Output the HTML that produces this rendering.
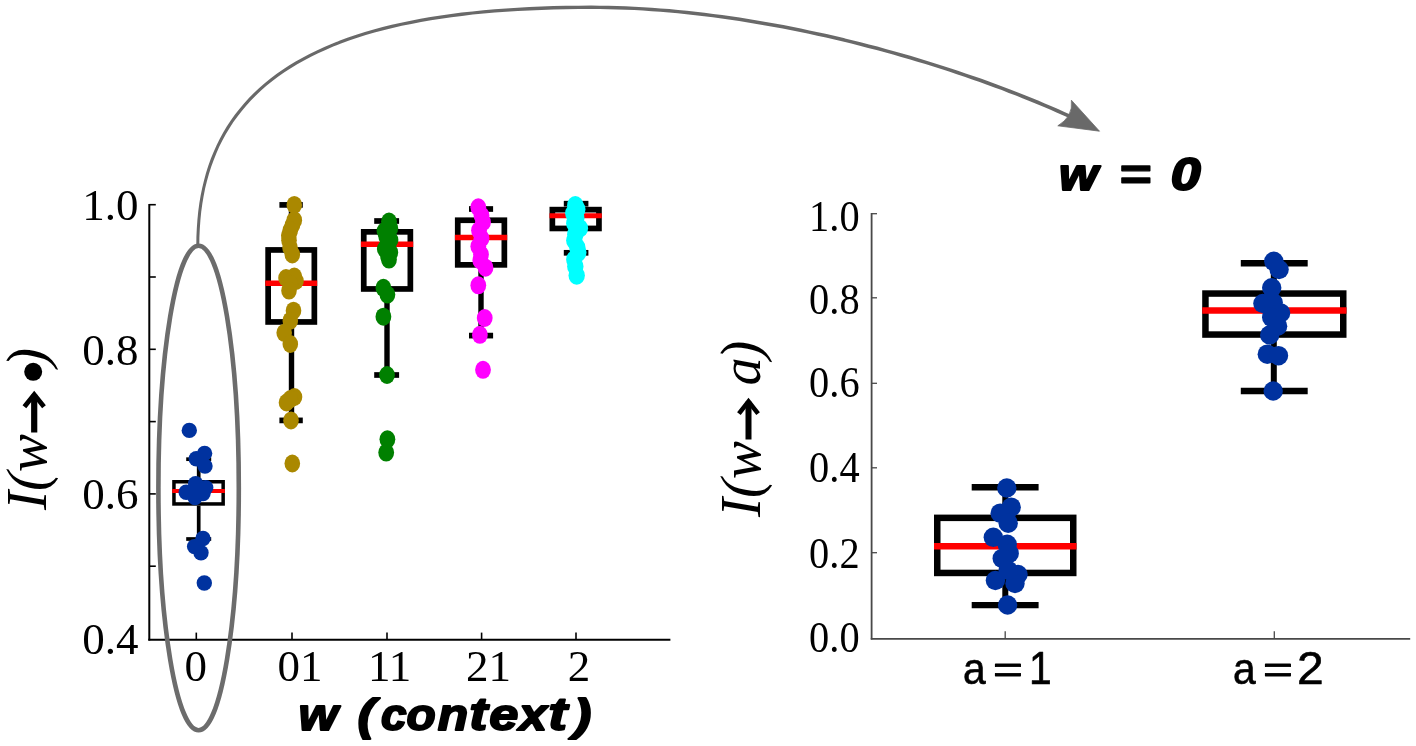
<!DOCTYPE html>
<html><head><meta charset="utf-8"><title>chart</title>
<style>
html,body{margin:0;padding:0;background:#fff;overflow:hidden;width:1416px;height:746px;}
svg{display:block;}
text{font-family:"Liberation Serif",serif;fill:#000;}
.sans{font-family:"Liberation Sans",sans-serif;}
</style></head><body>
<svg width="1416" height="746" viewBox="0 0 1416 746">
<defs><filter id="soft" x="0" y="0" width="1416" height="746" filterUnits="userSpaceOnUse"><feGaussianBlur stdDeviation="0.55"/></filter></defs>
<rect width="1416" height="746" fill="#fff"/>
<g filter="url(#soft)">

<line x1="149.3" y1="204" x2="149.3" y2="640.5" stroke="#000" stroke-width="2"/>
<line x1="148.3" y1="639.8" x2="670.4" y2="639.8" stroke="#000" stroke-width="2"/>
<line x1="149.3" y1="204.7" x2="155.8" y2="204.7" stroke="#000" stroke-width="1.6"/>
<line x1="149.3" y1="277.0" x2="155.8" y2="277.0" stroke="#000" stroke-width="1.6"/>
<line x1="149.3" y1="349.3" x2="155.8" y2="349.3" stroke="#000" stroke-width="1.6"/>
<line x1="149.3" y1="421.6" x2="155.8" y2="421.6" stroke="#000" stroke-width="1.6"/>
<line x1="149.3" y1="493.9" x2="155.8" y2="493.9" stroke="#000" stroke-width="1.6"/>
<line x1="149.3" y1="566.2" x2="155.8" y2="566.2" stroke="#000" stroke-width="1.6"/>
<line x1="196.3" y1="639.5" x2="196.3" y2="632.6" stroke="#000" stroke-width="1.6"/>
<line x1="292" y1="639.5" x2="292" y2="632.6" stroke="#000" stroke-width="1.6"/>
<line x1="387" y1="639.5" x2="387" y2="632.6" stroke="#000" stroke-width="1.6"/>
<line x1="481.6" y1="639.5" x2="481.6" y2="632.6" stroke="#000" stroke-width="1.6"/>
<line x1="576" y1="639.5" x2="576" y2="632.6" stroke="#000" stroke-width="1.6"/>
<text x="138.5" y="220.0" font-size="45" text-anchor="end">1.0</text>
<text x="138.5" y="364.6" font-size="45" text-anchor="end">0.8</text>
<text x="138.5" y="509.2" font-size="45" text-anchor="end">0.6</text>
<text x="138.5" y="653.8" font-size="45" text-anchor="end">0.4</text>
<text x="195.8" y="680.5" font-size="45" text-anchor="middle">0</text>
<text x="300" y="680.5" font-size="45" text-anchor="middle">01</text>
<text x="389.7" y="680.5" font-size="45" text-anchor="middle">11</text>
<text x="488.4" y="680.5" font-size="45" text-anchor="middle">21</text>
<text x="579" y="680.5" font-size="45" text-anchor="middle">2</text>
<line x1="198.7" y1="459.2" x2="198.7" y2="480" stroke="#000" stroke-width="3.7"/>
<line x1="198.7" y1="505.7" x2="198.7" y2="539" stroke="#000" stroke-width="3.7"/>
<line x1="186.2" y1="459.2" x2="211.2" y2="459.2" stroke="#000" stroke-width="3.7"/>
<line x1="186.2" y1="539" x2="211.2" y2="539" stroke="#000" stroke-width="3.7"/>
<rect x="173.95" y="481.75" width="49.20000000000002" height="22.19999999999999" fill="none" stroke="#000" stroke-width="3.5"/>
<line x1="172.2" y1="491" x2="224.9" y2="491" stroke="#f00" stroke-width="3.8"/>
<line x1="291.5" y1="204.9" x2="291.5" y2="247.1" stroke="#000" stroke-width="5.4"/>
<line x1="291.5" y1="324.8" x2="291.5" y2="420.4" stroke="#000" stroke-width="5.4"/>
<line x1="279.4" y1="204.9" x2="302.8" y2="204.9" stroke="#000" stroke-width="5.7"/>
<line x1="279.4" y1="420.4" x2="302.8" y2="420.4" stroke="#000" stroke-width="5.7"/>
<rect x="268.15000000000003" y="249.95" width="46.199999999999974" height="72.00000000000001" fill="none" stroke="#000" stroke-width="5.7"/>
<line x1="265.3" y1="283.3" x2="317.2" y2="283.3" stroke="#f00" stroke-width="5.6"/>
<line x1="387" y1="221" x2="387" y2="229" stroke="#000" stroke-width="5.4"/>
<line x1="387" y1="291.8" x2="387" y2="375" stroke="#000" stroke-width="5.4"/>
<line x1="374.2" y1="221" x2="399.1" y2="221" stroke="#000" stroke-width="5.7"/>
<line x1="374.2" y1="375" x2="399.1" y2="375" stroke="#000" stroke-width="5.7"/>
<rect x="363.75" y="231.85" width="46.60000000000001" height="57.10000000000001" fill="none" stroke="#000" stroke-width="5.7"/>
<line x1="360.9" y1="244.3" x2="413.2" y2="244.3" stroke="#f00" stroke-width="5.6"/>
<line x1="481" y1="209" x2="481" y2="217.4" stroke="#000" stroke-width="5.4"/>
<line x1="481" y1="267.7" x2="481" y2="335.6" stroke="#000" stroke-width="5.4"/>
<line x1="469" y1="209" x2="493.1" y2="209" stroke="#000" stroke-width="5.7"/>
<line x1="469" y1="335.6" x2="493.1" y2="335.6" stroke="#000" stroke-width="5.7"/>
<rect x="457.75" y="220.25" width="46.60000000000001" height="44.59999999999998" fill="none" stroke="#000" stroke-width="5.7"/>
<line x1="454.9" y1="237.5" x2="507.2" y2="237.5" stroke="#f00" stroke-width="5.6"/>
<line x1="575.9" y1="203.7" x2="575.9" y2="206.8" stroke="#000" stroke-width="5.4"/>
<line x1="575.9" y1="231.3" x2="575.9" y2="252.8" stroke="#000" stroke-width="5.4"/>
<line x1="563.8" y1="203.7" x2="588.4" y2="203.7" stroke="#000" stroke-width="5.7"/>
<line x1="563.8" y1="252.8" x2="588.4" y2="252.8" stroke="#000" stroke-width="5.7"/>
<rect x="552.35" y="209.65" width="46.59999999999995" height="18.8" fill="none" stroke="#000" stroke-width="5.7"/>
<line x1="549.5" y1="215.8" x2="601.8" y2="215.8" stroke="#f00" stroke-width="5"/>
<circle cx="189.3" cy="430.4" r="7.7" fill="#00339f"/>
<circle cx="204.6" cy="453.4" r="7.7" fill="#00339f"/>
<circle cx="196.3" cy="458.8" r="7.7" fill="#00339f"/>
<circle cx="205" cy="466.1" r="7.7" fill="#00339f"/>
<circle cx="195.6" cy="483.6" r="7.7" fill="#00339f"/>
<circle cx="186.2" cy="492.3" r="7.7" fill="#00339f"/>
<circle cx="205.7" cy="487.6" r="7.7" fill="#00339f"/>
<circle cx="195" cy="497.6" r="7.7" fill="#00339f"/>
<circle cx="203" cy="493.6" r="7.7" fill="#00339f"/>
<circle cx="199" cy="491" r="7.7" fill="#00339f"/>
<circle cx="203" cy="538.5" r="7.7" fill="#00339f"/>
<circle cx="194.6" cy="546.6" r="7.7" fill="#00339f"/>
<circle cx="201" cy="552.8" r="7.7" fill="#00339f"/>
<circle cx="204.3" cy="583" r="7.7" fill="#00339f"/>
<ellipse cx="286.5" cy="402.5" rx="7.8" ry="9" fill="#aa8800"/>
<ellipse cx="294.5" cy="397" rx="7.8" ry="9" fill="#aa8800"/>
<ellipse cx="286" cy="278" rx="7.8" ry="9" fill="#aa8800"/>
<ellipse cx="296" cy="281" rx="7.8" ry="9" fill="#aa8800"/>
<ellipse cx="292.5" cy="225" rx="7.8" ry="9" fill="#aa8800"/>
<ellipse cx="288.8" cy="235.5" rx="7.8" ry="9" fill="#aa8800"/>
<ellipse cx="290" cy="247.5" rx="7.8" ry="9" fill="#aa8800"/>
<ellipse cx="294.3" cy="204.9" rx="7.8" ry="9" fill="#aa8800"/>
<ellipse cx="294.3" cy="220.2" rx="7.8" ry="9" fill="#aa8800"/>
<ellipse cx="290.3" cy="230.3" rx="7.8" ry="9" fill="#aa8800"/>
<ellipse cx="289" cy="240.3" rx="7.8" ry="9" fill="#aa8800"/>
<ellipse cx="292.3" cy="254.4" rx="7.8" ry="9" fill="#aa8800"/>
<ellipse cx="294.3" cy="276.5" rx="7.8" ry="9" fill="#aa8800"/>
<ellipse cx="290.3" cy="283.7" rx="7.8" ry="9" fill="#aa8800"/>
<ellipse cx="289" cy="290.6" rx="7.8" ry="9" fill="#aa8800"/>
<ellipse cx="293.5" cy="310.7" rx="7.8" ry="9" fill="#aa8800"/>
<ellipse cx="290.3" cy="320.7" rx="7.8" ry="9" fill="#aa8800"/>
<ellipse cx="284.2" cy="332.8" rx="7.8" ry="9" fill="#aa8800"/>
<ellipse cx="290.3" cy="344" rx="7.8" ry="9" fill="#aa8800"/>
<ellipse cx="290.3" cy="399.1" rx="7.8" ry="9" fill="#aa8800"/>
<ellipse cx="291" cy="420.4" rx="7.8" ry="9" fill="#aa8800"/>
<ellipse cx="292.3" cy="463.5" rx="7.8" ry="9" fill="#aa8800"/>
<ellipse cx="389" cy="221.5" rx="7.9" ry="9" fill="#008000"/>
<ellipse cx="384.5" cy="231" rx="7.9" ry="9" fill="#008000"/>
<ellipse cx="390.5" cy="240" rx="7.9" ry="9" fill="#008000"/>
<ellipse cx="384.8" cy="249" rx="7.9" ry="9" fill="#008000"/>
<ellipse cx="388" cy="256" rx="7.9" ry="9" fill="#008000"/>
<ellipse cx="390.3" cy="228.3" rx="7.9" ry="9" fill="#008000"/>
<ellipse cx="386.2" cy="236.3" rx="7.9" ry="9" fill="#008000"/>
<ellipse cx="387.4" cy="244.3" rx="7.9" ry="9" fill="#008000"/>
<ellipse cx="390.3" cy="252.4" rx="7.9" ry="9" fill="#008000"/>
<ellipse cx="389" cy="259.6" rx="7.9" ry="9" fill="#008000"/>
<ellipse cx="383.4" cy="287.8" rx="7.9" ry="9" fill="#008000"/>
<ellipse cx="387.4" cy="294.6" rx="7.9" ry="9" fill="#008000"/>
<ellipse cx="383.4" cy="316.7" rx="7.9" ry="9" fill="#008000"/>
<ellipse cx="387" cy="375" rx="7.9" ry="9" fill="#008000"/>
<ellipse cx="387.4" cy="439.3" rx="7.9" ry="9" fill="#008000"/>
<ellipse cx="386.2" cy="452.6" rx="7.9" ry="9" fill="#008000"/>
<ellipse cx="478.3" cy="207.3" rx="7.9" ry="9" fill="#ff00ff"/>
<ellipse cx="481.5" cy="215.4" rx="7.9" ry="9" fill="#ff00ff"/>
<ellipse cx="483" cy="222.2" rx="7.9" ry="9" fill="#ff00ff"/>
<ellipse cx="479" cy="230.3" rx="7.9" ry="9" fill="#ff00ff"/>
<ellipse cx="481.5" cy="238.3" rx="7.9" ry="9" fill="#ff00ff"/>
<ellipse cx="478.3" cy="246.3" rx="7.9" ry="9" fill="#ff00ff"/>
<ellipse cx="481" cy="254.4" rx="7.9" ry="9" fill="#ff00ff"/>
<ellipse cx="480.3" cy="260.4" rx="7.9" ry="9" fill="#ff00ff"/>
<ellipse cx="485.5" cy="267.7" rx="7.9" ry="9" fill="#ff00ff"/>
<ellipse cx="478.3" cy="285.3" rx="7.9" ry="9" fill="#ff00ff"/>
<ellipse cx="484.7" cy="318" rx="7.9" ry="9" fill="#ff00ff"/>
<ellipse cx="479.9" cy="334.8" rx="7.9" ry="9" fill="#ff00ff"/>
<ellipse cx="483" cy="369.8" rx="7.9" ry="9" fill="#ff00ff"/>
<ellipse cx="575.3" cy="205.2" rx="8.2" ry="9.2" fill="#00ffff"/>
<ellipse cx="577.3" cy="209.2" rx="8.2" ry="9.2" fill="#00ffff"/>
<ellipse cx="573.3" cy="213.2" rx="8.2" ry="9.2" fill="#00ffff"/>
<ellipse cx="576.3" cy="218.2" rx="8.2" ry="9.2" fill="#00ffff"/>
<ellipse cx="574.3" cy="223.3" rx="8.2" ry="9.2" fill="#00ffff"/>
<ellipse cx="579.9" cy="228.3" rx="8.2" ry="9.2" fill="#00ffff"/>
<ellipse cx="575.3" cy="234.3" rx="8.2" ry="9.2" fill="#00ffff"/>
<ellipse cx="574.3" cy="240.4" rx="8.2" ry="9.2" fill="#00ffff"/>
<ellipse cx="577.3" cy="247.4" rx="8.2" ry="9.2" fill="#00ffff"/>
<ellipse cx="578.3" cy="252.4" rx="8.2" ry="9.2" fill="#00ffff"/>
<ellipse cx="574.3" cy="259.5" rx="8.2" ry="9.2" fill="#00ffff"/>
<ellipse cx="575.3" cy="266.5" rx="8.2" ry="9.2" fill="#00ffff"/>
<ellipse cx="576.7" cy="275.6" rx="8.2" ry="9.2" fill="#00ffff"/>
<ellipse cx="198.6" cy="488" rx="40.2" ry="242.2" fill="none" stroke="#6c6c6c" stroke-width="4.6"/>
<polygon points="199.3,246.0 199.4,237.2 199.8,228.7 200.4,220.3 201.2,212.1 202.3,204.1 203.6,196.2 205.1,188.6 206.9,181.2 208.9,173.9 211.2,166.8 213.7,159.9 216.4,153.2 219.3,146.6 222.5,140.2 225.9,134.0 229.6,128.0 233.4,122.1 237.5,116.4 241.8,110.9 246.4,105.5 251.1,100.3 256.1,95.2 261.3,90.3 266.7,85.6 272.4,81.0 278.3,76.6 284.4,72.3 290.7,68.2 297.2,64.2 304.0,60.4 311.0,56.8 318.1,53.2 325.5,49.9 333.2,46.6 341.0,43.6 349.1,40.6 357.3,37.8 365.8,35.1 374.5,32.6 383.4,30.2 392.5,28.0 401.8,25.8 411.3,23.9 421.0,22.0 431.0,20.3 441.1,18.7 451.5,17.2 462.0,15.9 472.7,14.6 483.7,13.5 494.8,12.6 506.2,11.7 517.7,11.0 529.5,10.4 541.4,9.9 553.5,9.5 565.9,9.2 578.4,9.0 591.1,9.0 599.7,9.0 608.2,9.2 616.9,9.4 625.5,9.7 634.2,10.1 642.9,10.6 651.6,11.2 660.3,11.8 669.0,12.5 677.8,13.3 686.5,14.2 695.3,15.2 704.1,16.2 712.8,17.3 721.6,18.5 730.4,19.7 739.1,21.0 747.9,22.4 756.6,23.9 765.3,25.4 774.0,26.9 782.7,28.6 791.4,30.3 800.1,32.0 808.7,33.8 817.3,35.7 825.9,37.6 834.4,39.5 842.9,41.5 851.3,43.6 859.8,45.7 868.1,47.9 876.5,50.1 884.8,52.3 893.0,54.6 901.2,56.9 909.3,59.3 917.4,61.7 925.4,64.1 933.3,66.6 941.2,69.1 949.0,71.6 956.8,74.2 964.5,76.8 972.1,79.4 979.6,82.1 987.0,84.7 994.4,87.4 1001.7,90.1 1008.8,92.9 1015.9,95.6 1023.0,98.4 1029.9,101.2 1036.7,104.0 1043.4,106.8 1050.0,109.6 1056.5,112.4 1062.9,115.2 1069.2,118.1 1070.8,114.7 1064.4,111.9 1058.0,109.0 1051.5,106.2 1044.8,103.4 1038.1,100.6 1031.2,97.8 1024.3,95.0 1017.3,92.2 1010.2,89.4 1002.9,86.7 995.6,84.0 988.3,81.3 980.8,78.6 973.2,76.0 965.6,73.4 957.9,70.8 950.2,68.2 942.3,65.7 934.4,63.2 926.4,60.7 918.4,58.3 910.3,55.8 902.2,53.5 894.0,51.2 885.7,48.9 877.4,46.6 869.0,44.4 860.6,42.3 852.2,40.2 843.7,38.1 835.2,36.1 826.6,34.1 818.0,32.2 809.4,30.4 800.8,28.6 792.1,26.8 783.4,25.1 774.7,23.5 765.9,21.9 757.2,20.4 748.4,19.0 739.6,17.6 730.9,16.3 722.1,15.1 713.3,13.9 704.5,12.8 695.7,11.8 686.9,10.8 678.1,9.9 669.3,9.1 660.5,8.4 651.8,7.8 643.1,7.2 634.3,6.7 625.6,6.3 617.0,6.0 608.3,5.8 599.7,5.7 591.1,5.6 578.4,5.7 565.8,5.8 553.4,6.1 541.3,6.5 529.3,7.0 517.5,7.7 506.0,8.4 494.6,9.3 483.4,10.3 472.4,11.4 461.6,12.6 451.0,14.0 440.6,15.5 430.4,17.1 420.5,18.8 410.7,20.7 401.1,22.7 391.7,24.8 382.6,27.1 373.6,29.5 364.9,32.1 356.3,34.8 348.0,37.6 339.9,40.6 332.0,43.7 324.3,47.0 316.8,50.4 309.5,53.9 302.5,57.7 295.6,61.5 289.0,65.6 282.6,69.7 276.4,74.1 270.5,78.6 264.7,83.2 259.2,88.0 253.9,93.0 248.9,98.1 244.0,103.4 239.4,108.9 235.0,114.5 230.9,120.3 226.9,126.3 223.2,132.5 219.8,138.8 216.6,145.3 213.6,152.0 210.8,158.8 208.3,165.8 206.0,173.0 204.0,180.4 202.2,187.9 200.6,195.7 199.3,203.6 198.2,211.7 197.4,220.0 196.8,228.5 196.4,237.1 196.3,246.0" fill="#696969"/>
<path d="M1099.5,131.2 L1071.4,100.2 Q1072.5,108.5 1068.7,115.5 Q1065,121.5 1057.8,125.8 Z" fill="#696969" stroke="#696969" stroke-width="0.8" stroke-linejoin="round"/>
<g transform="translate(45.7,510) rotate(-90)">
<text x="0" y="0" font-size="57" font-style="italic">I(w</text>
</g>
<line x1="34.2" y1="432.5" x2="34.2" y2="394.7" stroke="#000" stroke-width="6.2"/><polyline points="24.400000000000002,406.7 34.2,394.5 44.0,406.7" fill="none" stroke="#000" stroke-width="4.8" stroke-linejoin="miter"/>
<circle cx="33.2" cy="371.8" r="9" fill="#000"/>
<g transform="translate(45.7,367) rotate(-90)"><text x="0" y="0" font-size="57" font-style="italic">)</text></g>
<text class="sans" font-weight="bold" font-style="italic" font-size="100" stroke="#000" stroke-width="4.24" stroke-linejoin="round" transform="matrix(0.5045,0,0,0.4394,298.48,730.10)">w</text>
<text class="sans" font-weight="bold" font-style="italic" font-size="100" stroke="#000" stroke-width="4.10" stroke-linejoin="round" transform="matrix(0.5282,0,0,0.4469,357.50,729.70)">(</text>
<text class="sans" font-weight="bold" font-style="italic" font-size="100" stroke="#000" stroke-width="4.40" stroke-linejoin="round" transform="matrix(0.4608,0,0,0.4489,381.07,730.15)">c</text>
<text class="sans" font-weight="bold" font-style="italic" font-size="100" stroke="#000" stroke-width="4.31" stroke-linejoin="round" transform="matrix(0.4781,0,0,0.4489,406.52,729.95)">o</text>
<text class="sans" font-weight="bold" font-style="italic" font-size="100" stroke="#000" stroke-width="4.22" stroke-linejoin="round" transform="matrix(0.4982,0,0,0.4498,437.75,730.00)">n</text>
<text class="sans" font-weight="bold" font-style="italic" font-size="100" stroke="#000" stroke-width="3.94" stroke-linejoin="round" transform="matrix(0.5477,0,0,0.4682,469.30,729.93)">t</text>
<text class="sans" font-weight="bold" font-style="italic" font-size="100" stroke="#000" stroke-width="4.12" stroke-linejoin="round" transform="matrix(0.5231,0,0,0.4489,489.28,729.95)">e</text>
<text class="sans" font-weight="bold" font-style="italic" font-size="100" stroke="#000" stroke-width="4.25" stroke-linejoin="round" transform="matrix(0.5039,0,0,0.4375,519.02,730.00)">x</text>
<text class="sans" font-weight="bold" font-style="italic" font-size="100" stroke="#000" stroke-width="3.86" stroke-linejoin="round" transform="matrix(0.5692,0,0,0.4682,548.31,729.93)">t</text>
<text class="sans" font-weight="bold" font-style="italic" font-size="100" stroke="#000" stroke-width="4.03" stroke-linejoin="round" transform="matrix(0.5448,0,0,0.4469,573.14,729.70)">)</text>
<line x1="871.6" y1="213" x2="871.6" y2="639.5" stroke="#484848" stroke-width="1.8"/>
<line x1="870.8" y1="638.8" x2="1410.2" y2="638.8" stroke="#484848" stroke-width="1.8"/>
<line x1="871.6" y1="213.7" x2="877" y2="213.7" stroke="#484848" stroke-width="1.3"/>
<line x1="871.6" y1="297.8" x2="877" y2="297.8" stroke="#484848" stroke-width="1.3"/>
<line x1="871.6" y1="383.3" x2="877" y2="383.3" stroke="#484848" stroke-width="1.3"/>
<line x1="871.6" y1="467.8" x2="877" y2="467.8" stroke="#484848" stroke-width="1.3"/>
<line x1="871.6" y1="552.7" x2="877" y2="552.7" stroke="#484848" stroke-width="1.3"/>
<line x1="1005.2" y1="638.8" x2="1005.2" y2="631.3" stroke="#484848" stroke-width="1.3"/>
<line x1="1274.3" y1="638.8" x2="1274.3" y2="631.3" stroke="#484848" stroke-width="1.3"/>
<text transform="translate(859.6,230.5) scale(1,1.10)" font-size="40.4" text-anchor="end">1.0</text>
<text transform="translate(859.6,314.1) scale(1,1.10)" font-size="40.4" text-anchor="end">0.8</text>
<text transform="translate(859.6,396.9) scale(1,1.10)" font-size="40.4" text-anchor="end">0.6</text>
<text transform="translate(859.6,481.7) scale(1,1.10)" font-size="40.4" text-anchor="end">0.4</text>
<text transform="translate(859.6,567.9) scale(1,1.10)" font-size="40.4" text-anchor="end">0.2</text>
<text transform="translate(859.6,651.9) scale(1,1.10)" font-size="40.4" text-anchor="end">0.0</text>
<line x1="1005.3" y1="487.2" x2="1005.3" y2="514.6" stroke="#000" stroke-width="6.0"/>
<line x1="1005.3" y1="576.2" x2="1005.3" y2="605.1" stroke="#000" stroke-width="6.0"/>
<line x1="971.7" y1="487.2" x2="1038.6" y2="487.2" stroke="#000" stroke-width="6.4"/>
<line x1="971.7" y1="605.1" x2="1038.6" y2="605.1" stroke="#000" stroke-width="6.4"/>
<rect x="937.25" y="517.85" width="136.0" height="55.10000000000002" fill="none" stroke="#000" stroke-width="6.5"/>
<line x1="934" y1="546.2" x2="1076.5" y2="546.2" stroke="#f00" stroke-width="6.5"/>
<line x1="1273.8" y1="263.3" x2="1273.8" y2="290.3" stroke="#000" stroke-width="6.0"/>
<line x1="1273.8" y1="337.8" x2="1273.8" y2="391" stroke="#000" stroke-width="6.0"/>
<line x1="1240.8" y1="263.3" x2="1307.7" y2="263.3" stroke="#000" stroke-width="6.4"/>
<line x1="1240.8" y1="391" x2="1307.7" y2="391" stroke="#000" stroke-width="6.4"/>
<rect x="1205.45" y="293.55" width="137.79999999999995" height="41.0" fill="none" stroke="#000" stroke-width="6.5"/>
<line x1="1202.2" y1="310.5" x2="1346.5" y2="310.5" stroke="#f00" stroke-width="6.5"/>
<circle cx="1006.8" cy="488" r="9.7" fill="#00339f"/>
<circle cx="1011.2" cy="507.2" r="9.7" fill="#00339f"/>
<circle cx="1000.2" cy="513.2" r="9.7" fill="#00339f"/>
<circle cx="1008.2" cy="523.2" r="9.7" fill="#00339f"/>
<circle cx="993.3" cy="537.3" r="9.7" fill="#00339f"/>
<circle cx="1007.2" cy="544.3" r="9.7" fill="#00339f"/>
<circle cx="1009.2" cy="553.4" r="9.7" fill="#00339f"/>
<circle cx="1002.2" cy="558.4" r="9.7" fill="#00339f"/>
<circle cx="1018" cy="574.5" r="9.7" fill="#00339f"/>
<circle cx="995.4" cy="580.5" r="9.7" fill="#00339f"/>
<circle cx="1015" cy="583.5" r="9.7" fill="#00339f"/>
<circle cx="1008.2" cy="570.4" r="9.7" fill="#00339f"/>
<circle cx="1007.6" cy="605" r="9.7" fill="#00339f"/>
<circle cx="1273.8" cy="261.3" r="9.7" fill="#00339f"/>
<circle cx="1279.1" cy="269.5" r="9.7" fill="#00339f"/>
<circle cx="1271.7" cy="287.8" r="9.7" fill="#00339f"/>
<circle cx="1262.9" cy="303.5" r="9.7" fill="#00339f"/>
<circle cx="1273.2" cy="302.6" r="9.7" fill="#00339f"/>
<circle cx="1280.6" cy="312.9" r="9.7" fill="#00339f"/>
<circle cx="1271.7" cy="317.3" r="9.7" fill="#00339f"/>
<circle cx="1277.6" cy="326.2" r="9.7" fill="#00339f"/>
<circle cx="1269.7" cy="335" r="9.7" fill="#00339f"/>
<circle cx="1267.3" cy="354.2" r="9.7" fill="#00339f"/>
<circle cx="1278.5" cy="355.7" r="9.7" fill="#00339f"/>
<circle cx="1273.2" cy="391" r="9.7" fill="#00339f"/>
<text class="sans" font-size="100" stroke="#000" stroke-width="1.39" stroke-linejoin="round" transform="matrix(0.4086,0,0,0.4526,962.98,683.75)">a</text>
<text class="sans" font-size="100" stroke="#000" stroke-width="2.26" stroke-linejoin="round" transform="matrix(0.5123,0,0,0.3727,992.89,682.26)">=</text>
<text class="sans" font-size="100" stroke="#000" stroke-width="1.36" stroke-linejoin="round" transform="matrix(0.4084,0,0,0.4709,1029.00,683.70)">1</text>
<text class="sans" font-size="100" stroke="#000" stroke-width="1.39" stroke-linejoin="round" transform="matrix(0.4086,0,0,0.4526,1232.98,683.75)">a</text>
<text class="sans" font-size="100" stroke="#000" stroke-width="2.26" stroke-linejoin="round" transform="matrix(0.5123,0,0,0.3727,1262.89,682.26)">=</text>
<text class="sans" font-size="100" stroke="#000" stroke-width="1.26" stroke-linejoin="round" transform="matrix(0.4803,0,0,0.4699,1297.10,683.70)">2</text>
<text class="sans" font-weight="bold" font-style="italic" font-size="100" stroke="#000" stroke-width="4.64" stroke-linejoin="round" transform="matrix(0.4994,0,0,0.4489,1059.10,189.50)">w</text>
<text class="sans" font-weight="bold" font-style="italic" font-size="100" stroke="#000" stroke-width="3.21" stroke-linejoin="round" transform="matrix(0.5498,0,0,0.4471,1118.70,190.45)">=</text>
<text class="sans" font-weight="bold" font-style="italic" font-size="100" stroke="#000" stroke-width="4.44" stroke-linejoin="round" transform="matrix(0.5377,0,0,0.4534,1170.84,189.65)">0</text>
<g transform="translate(760,517) rotate(-90)"><text x="0" y="0" font-size="57" font-style="italic">I(w</text></g>
<line x1="748.5" y1="439.5" x2="748.5" y2="401.6" stroke="#000" stroke-width="6"/><polyline points="738.9,413.6 748.5,401.40000000000003 758.1,413.6" fill="none" stroke="#000" stroke-width="4.6" stroke-linejoin="miter"/>
<g transform="translate(760,385.5) rotate(-90)"><text x="0" y="0" font-size="56" font-style="italic">a</text></g>
<g transform="translate(760,359.5) rotate(-90)"><text x="0" y="0" font-size="56" font-style="italic">)</text></g>
</g></svg></body></html>
